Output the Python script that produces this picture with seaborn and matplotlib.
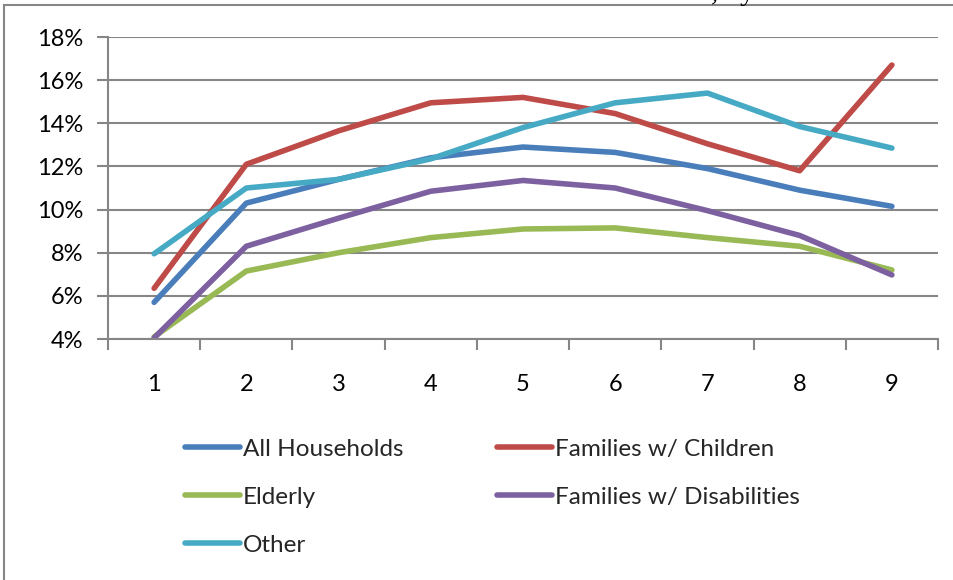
import matplotlib
matplotlib.use("Agg")
import matplotlib.pyplot as plt
from matplotlib.lines import Line2D
from matplotlib.patches import Rectangle
from matplotlib.ticker import FuncFormatter, MultipleLocator, FixedLocator
import numpy as np
import pandas as pd
import seaborn as sns

# ---- data (percent) ----
periods = [1, 2, 3, 4, 5, 6, 7, 8, 9]
all_households = [5.7, 10.3, 11.4, 12.4, 12.9, 12.65, 11.9, 10.9, 10.15]
families_children = [6.35, 12.1, 13.65, 14.95, 15.2, 14.45, 13.05, 11.8, 16.7]
elderly = [4.1, 7.15, 8.0, 8.7, 9.1, 9.15, 8.7, 8.3, 7.2]
families_disabilities = [4.05, 8.3, 9.6, 10.85, 11.35, 11.0, 9.95, 8.8, 6.97]
other = [7.95, 11.0, 11.4, 12.35, 13.8, 14.95, 15.4, 13.85, 12.85]

series_names = ["All Households", "Families w/ Children", "Elderly",
                "Families w/ Disabilities", "Other"]
series_values = [all_households, families_children, elderly,
                 families_disabilities, other]
colors = ["#4A7EBB", "#BE4B48", "#98B954", "#7D60A0", "#46AAC5"]

df = pd.DataFrame({
    "period": np.tile(periods, len(series_names)),
    "series": np.repeat(series_names, len(periods)),
    "value": np.concatenate(series_values),
})

sns.set_theme(style="white")
plt.rcParams["font.family"] = ["Lato", "DejaVu Sans"]

fig = plt.figure(figsize=(9.54, 5.8), dpi=100)
ax = fig.add_axes([108 / 954, 1 - 339 / 580, (938 - 108) / 954, (339 - 37) / 580])

grid_c = "#868686"
lw = 4.0
sns.lineplot(data=df, x="period", y="value", hue="series",
             hue_order=series_names, palette=colors, ax=ax,
             linewidth=lw, solid_capstyle="round", legend=False)

ax.set_xlim(0.5, 9.5)
ax.set_ylim(4, 18)
ax.yaxis.set_major_locator(MultipleLocator(2))
ax.yaxis.set_major_formatter(FuncFormatter(lambda v, p: f"{v:.0f}%"))
ax.xaxis.set_major_locator(FixedLocator(periods))
ax.xaxis.set_minor_locator(FixedLocator(np.arange(0.5, 10, 1)))
ax.set_xlabel("")
ax.set_ylabel("")

ax.grid(axis="y", color=grid_c, linewidth=1.5)
ax.set_axisbelow(True)
for side in ["top", "right"]:
    ax.spines[side].set_visible(False)
for side in ["left", "bottom"]:
    ax.spines[side].set_color(grid_c)
    ax.spines[side].set_linewidth(1.5)

ax.tick_params(axis="y", which="major", length=8, width=1.5, color=grid_c,
               labelsize=17, pad=9.5, left=True)
ax.tick_params(axis="x", which="major", length=0, labelsize=17, pad=25)
ax.tick_params(axis="x", which="minor", length=8, width=1.5, color=grid_c,
               bottom=True)
for lab in ax.get_xticklabels() + ax.get_yticklabels():
    lab.set_color("black")

# legend: two columns, filled row by row
order = [0, 2, 4, 1, 3]
handles = [Line2D([], [], color=colors[i], linewidth=lw, solid_capstyle="round")
           for i in order]
labels = [series_names[i] for i in order]
fig.legend(handles, labels, ncol=2, loc="upper left",
           bbox_to_anchor=(175 / 954, 1 - 429 / 580), frameon=False,
           fontsize=17.5, handlelength=2.26, handletextpad=0.12,
           columnspacing=3.87, labelspacing=1.11, borderaxespad=0)

# chart frame
fig.add_artist(Rectangle((4.5 / 954, -0.1), 1.2, 1 - 5 / 580 + 0.1,
                         transform=fig.transFigure, fill=False,
                         edgecolor=grid_c, linewidth=1.5))

# heading running in from above
fig.text(711 / 954, 1.0, ", by Year", family="Liberation Serif", fontsize=21,
         ha="left", va="baseline", color="black")

fig.savefig("out.png", dpi=100)
